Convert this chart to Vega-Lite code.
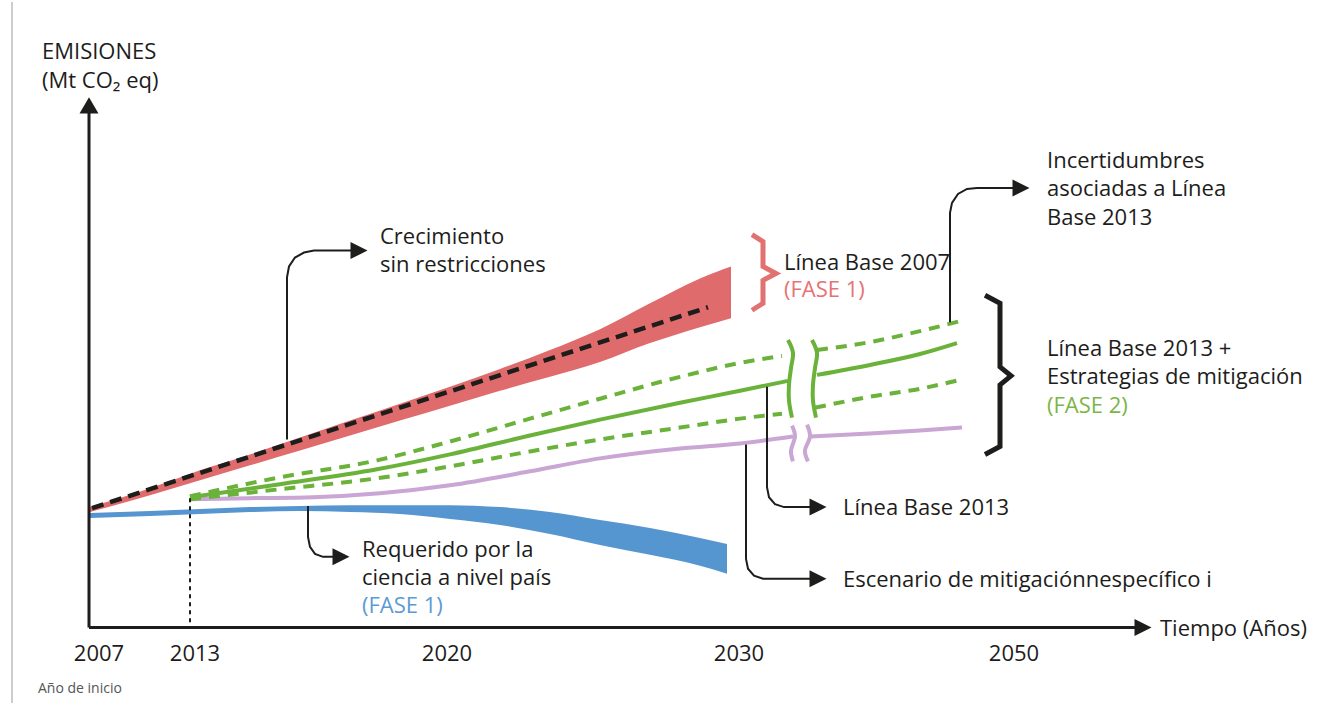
{
  "$schema": "https://vega.github.io/schema/vega-lite/v6.json",
  "width": 1328,
  "height": 705,
  "padding": 0,
  "autosize": {"type": "fit", "contains": "padding"},
  "background": "white",
  "config": {"view": {"stroke": null}},
  "resolve": {"scale": {"color": "independent"}},
  "datasets": {
    "bands": [
      {"serie": "LB2007", "t": 90, "v": 508, "v2": 513},
      {"serie": "LB2007", "t": 150, "v": 489, "v2": 496},
      {"serie": "LB2007", "t": 200, "v": 471, "v2": 481},
      {"serie": "LB2007", "t": 250, "v": 455, "v2": 466},
      {"serie": "LB2007", "t": 300, "v": 438, "v2": 451},
      {"serie": "LB2007", "t": 350, "v": 421, "v2": 436},
      {"serie": "LB2007", "t": 400, "v": 404, "v2": 421},
      {"serie": "LB2007", "t": 450, "v": 387, "v2": 406},
      {"serie": "LB2007", "t": 500, "v": 369, "v2": 391},
      {"serie": "LB2007", "t": 550, "v": 350, "v2": 377},
      {"serie": "LB2007", "t": 600, "v": 329, "v2": 362},
      {"serie": "LB2007", "t": 650, "v": 303, "v2": 343},
      {"serie": "LB2007", "t": 700, "v": 278, "v2": 327},
      {"serie": "LB2007", "t": 731, "v": 266, "v2": 318},
      {"serie": "Ciencia", "t": 90, "v": 514, "v2": 519},
      {"serie": "Ciencia", "t": 150, "v": 512, "v2": 517},
      {"serie": "Ciencia", "t": 200, "v": 510, "v2": 515},
      {"serie": "Ciencia", "t": 250, "v": 508, "v2": 513},
      {"serie": "Ciencia", "t": 300, "v": 507, "v2": 512},
      {"serie": "Ciencia", "t": 350, "v": 506, "v2": 513},
      {"serie": "Ciencia", "t": 400, "v": 506, "v2": 515},
      {"serie": "Ciencia", "t": 450, "v": 506, "v2": 520},
      {"serie": "Ciencia", "t": 500, "v": 508, "v2": 526},
      {"serie": "Ciencia", "t": 550, "v": 513, "v2": 535},
      {"serie": "Ciencia", "t": 600, "v": 521, "v2": 546},
      {"serie": "Ciencia", "t": 650, "v": 529, "v2": 556},
      {"serie": "Ciencia", "t": 700, "v": 539, "v2": 567},
      {"serie": "Ciencia", "t": 727, "v": 545, "v2": 575}
    ],
    "paths": [
      {"id": "marco", "t": 12, "v": 0},
      {"id": "marco", "t": 12, "v": 705},
      {"id": "ejeY", "t": 89, "v": 629},
      {"id": "ejeY", "t": 89, "v": 110},
      {"id": "ejeX", "t": 89, "v": 629},
      {"id": "ejeX", "t": 1136, "v": 629},
      {"id": "c1", "t": 287, "v": 440},
      {"id": "c1", "t": 287, "v": 277},
      {"id": "c1", "t": 289, "v": 266},
      {"id": "c1", "t": 295, "v": 257},
      {"id": "c1", "t": 304, "v": 252},
      {"id": "c1", "t": 314, "v": 250},
      {"id": "c1", "t": 351, "v": 250},
      {"id": "c2", "t": 308, "v": 507},
      {"id": "c2", "t": 308, "v": 538},
      {"id": "c2", "t": 310, "v": 548},
      {"id": "c2", "t": 315, "v": 555},
      {"id": "c2", "t": 323, "v": 558},
      {"id": "c2", "t": 333, "v": 558},
      {"id": "c3", "t": 767, "v": 387},
      {"id": "c3", "t": 767, "v": 488},
      {"id": "c3", "t": 769, "v": 498},
      {"id": "c3", "t": 775, "v": 505},
      {"id": "c3", "t": 784, "v": 508},
      {"id": "c3", "t": 810, "v": 508},
      {"id": "c4", "t": 746, "v": 445},
      {"id": "c4", "t": 746, "v": 560},
      {"id": "c4", "t": 748, "v": 570},
      {"id": "c4", "t": 754, "v": 577},
      {"id": "c4", "t": 763, "v": 580},
      {"id": "c4", "t": 810, "v": 580},
      {"id": "c5", "t": 950, "v": 322},
      {"id": "c5", "t": 950, "v": 212},
      {"id": "c5", "t": 952, "v": 202},
      {"id": "c5", "t": 958, "v": 193},
      {"id": "c5", "t": 967, "v": 188},
      {"id": "c5", "t": 977, "v": 187},
      {"id": "c5", "t": 1013, "v": 187},
      {"id": "llaveRoja", "t": 752, "v": 234},
      {"id": "llaveRoja", "t": 763, "v": 241},
      {"id": "llaveRoja", "t": 763, "v": 266},
      {"id": "llaveRoja", "t": 776, "v": 273},
      {"id": "llaveRoja", "t": 763, "v": 280},
      {"id": "llaveRoja", "t": 763, "v": 303},
      {"id": "llaveRoja", "t": 752, "v": 310},
      {"id": "llaveNegra", "t": 985, "v": 295},
      {"id": "llaveNegra", "t": 1000, "v": 303},
      {"id": "llaveNegra", "t": 1000, "v": 367},
      {"id": "llaveNegra", "t": 1011, "v": 376},
      {"id": "llaveNegra", "t": 1000, "v": 385},
      {"id": "llaveNegra", "t": 1000, "v": 447},
      {"id": "llaveNegra", "t": 985, "v": 455},
      {"id": "inicio2013", "t": 190, "v": 499},
      {"id": "inicio2013", "t": 190, "v": 629},
      {"id": "crecimiento", "t": 92, "v": 509},
      {"id": "crecimiento", "t": 708, "v": 307},
      {"id": "gu1", "t": 190, "v": 497},
      {"id": "gu1", "t": 280, "v": 478},
      {"id": "gu1", "t": 377, "v": 461},
      {"id": "gu1", "t": 450, "v": 442},
      {"id": "gu1", "t": 530, "v": 419},
      {"id": "gu1", "t": 600, "v": 399},
      {"id": "gu1", "t": 680, "v": 377},
      {"id": "gu1", "t": 740, "v": 363},
      {"id": "gu1", "t": 782, "v": 356},
      {"id": "gu2", "t": 817, "v": 350},
      {"id": "gu2", "t": 870, "v": 342},
      {"id": "gu2", "t": 920, "v": 331},
      {"id": "gu2", "t": 960, "v": 321},
      {"id": "gl1", "t": 190, "v": 500},
      {"id": "gl1", "t": 280, "v": 490},
      {"id": "gl1", "t": 377, "v": 479},
      {"id": "gl1", "t": 450, "v": 467},
      {"id": "gl1", "t": 530, "v": 452},
      {"id": "gl1", "t": 600, "v": 440},
      {"id": "gl1", "t": 680, "v": 428},
      {"id": "gl1", "t": 740, "v": 419},
      {"id": "gl1", "t": 782, "v": 414},
      {"id": "gl2", "t": 815, "v": 408},
      {"id": "gl2", "t": 870, "v": 397},
      {"id": "gl2", "t": 920, "v": 389},
      {"id": "gl2", "t": 960, "v": 380},
      {"id": "gs1", "t": 190, "v": 498},
      {"id": "gs1", "t": 280, "v": 485},
      {"id": "gs1", "t": 377, "v": 470},
      {"id": "gs1", "t": 450, "v": 455},
      {"id": "gs1", "t": 530, "v": 436},
      {"id": "gs1", "t": 600, "v": 420},
      {"id": "gs1", "t": 680, "v": 403},
      {"id": "gs1", "t": 740, "v": 391},
      {"id": "gs1", "t": 788, "v": 381},
      {"id": "gs2", "t": 817, "v": 375},
      {"id": "gs2", "t": 870, "v": 365},
      {"id": "gs2", "t": 920, "v": 354},
      {"id": "gs2", "t": 957, "v": 343},
      {"id": "p1", "t": 190, "v": 500},
      {"id": "p1", "t": 250, "v": 499},
      {"id": "p1", "t": 313, "v": 498},
      {"id": "p1", "t": 380, "v": 494},
      {"id": "p1", "t": 450, "v": 486},
      {"id": "p1", "t": 530, "v": 472},
      {"id": "p1", "t": 600, "v": 459},
      {"id": "p1", "t": 680, "v": 449},
      {"id": "p1", "t": 740, "v": 444},
      {"id": "p1", "t": 793, "v": 437},
      {"id": "p2", "t": 810, "v": 437},
      {"id": "p2", "t": 870, "v": 434},
      {"id": "p2", "t": 920, "v": 431},
      {"id": "p2", "t": 962, "v": 428},
      {"id": "gb1", "t": 788, "v": 340},
      {"id": "gb1", "t": 793, "v": 353},
      {"id": "gb1", "t": 791, "v": 368},
      {"id": "gb1", "t": 789, "v": 385},
      {"id": "gb1", "t": 789, "v": 401},
      {"id": "gb1", "t": 792, "v": 418},
      {"id": "gb2", "t": 812, "v": 340},
      {"id": "gb2", "t": 817, "v": 353},
      {"id": "gb2", "t": 815, "v": 368},
      {"id": "gb2", "t": 813, "v": 385},
      {"id": "gb2", "t": 813, "v": 401},
      {"id": "gb2", "t": 816, "v": 418},
      {"id": "pb1", "t": 792, "v": 426},
      {"id": "pb1", "t": 795, "v": 437},
      {"id": "pb1", "t": 791, "v": 451},
      {"id": "pb1", "t": 793, "v": 462},
      {"id": "pb2", "t": 807, "v": 425},
      {"id": "pb2", "t": 810, "v": 437},
      {"id": "pb2", "t": 805, "v": 451},
      {"id": "pb2", "t": 808, "v": 462}
    ],
    "flechas": [
      {"dir": "arriba", "t": 89, "v": 104},
      {"dir": "derecha", "t": 1143, "v": 629},
      {"dir": "derecha", "t": 359, "v": 250},
      {"dir": "derecha", "t": 341, "v": 558},
      {"dir": "derecha", "t": 818, "v": 508},
      {"dir": "derecha", "t": 818, "v": 580},
      {"dir": "derecha", "t": 1021, "v": 187}
    ],
    "textos": [
      {"txt": "EMISIONES", "t": 42, "v": 50, "tono": "negro"},
      {"txt": "(Mt CO₂ eq)", "t": 42, "v": 79, "tono": "negro"},
      {"txt": "Crecimiento", "t": 380, "v": 236, "tono": "negro"},
      {"txt": "sin restricciones", "t": 380, "v": 265, "tono": "negro"},
      {"txt": "Línea Base 2007", "t": 784, "v": 262, "tono": "negro"},
      {"txt": "(FASE 1)", "t": 784, "v": 290, "tono": "rojo"},
      {"txt": "Incertidumbres", "t": 1047, "v": 160, "tono": "negro"},
      {"txt": "asociadas a Línea", "t": 1047, "v": 188, "tono": "negro"},
      {"txt": "Base 2013", "t": 1047, "v": 217, "tono": "negro"},
      {"txt": "Línea Base 2013 +", "t": 1047, "v": 349, "tono": "negro"},
      {"txt": "Estrategias de mitigación", "t": 1047, "v": 377, "tono": "negro"},
      {"txt": "(FASE 2)", "t": 1047, "v": 406, "tono": "verde"},
      {"txt": "Línea Base 2013", "t": 843, "v": 509, "tono": "negro"},
      {"txt": "Escenario de mitigaciónnespecífico i", "t": 843, "v": 581, "tono": "negro"},
      {"txt": "Requerido por la", "t": 362, "v": 551, "tono": "negro"},
      {"txt": "ciencia a nivel país", "t": 362, "v": 579, "tono": "negro"},
      {"txt": "(FASE 1)", "t": 362, "v": 607, "tono": "azul"},
      {"txt": "Tiempo (Años)", "t": 1160, "v": 631, "tono": "negro"}
    ],
    "anios": [
      {"txt": "2007", "t": 99, "v": 656},
      {"txt": "2013", "t": 195, "v": 656},
      {"txt": "2020", "t": 447, "v": 656},
      {"txt": "2030", "t": 739, "v": 656},
      {"txt": "2050", "t": 1014, "v": 656}
    ],
    "nota": [
      {"txt": "Año de inicio", "t": 38, "v": 691}
    ]
  },
  "encoding": {
    "x": {"field": "t", "type": "quantitative", "scale": {"domain": [0, 1328], "nice": false, "zero": false}, "axis": null},
    "y": {"field": "v", "type": "quantitative", "scale": {"domain": [0, 705], "nice": false, "zero": false, "reverse": true}, "axis": null}
  },
  "layer": [
    {
      "data": {"name": "bands"},
      "mark": {"type": "area", "interpolate": "monotone"},
      "encoding": {
        "y2": {"field": "v2"},
        "color": {"field": "serie", "type": "nominal", "scale": {"domain": ["LB2007", "Ciencia"], "range": ["#e06b6c", "#5596d0"]}, "legend": null}
      }
    },
    {
      "data": {"name": "paths"},
      "transform": [{"filter": "datum.id == 'marco'"}],
      "mark": {"type": "line", "stroke": "#9a9a9a", "strokeWidth": 1},
      "encoding": {"detail": {"field": "id"}, "order": {"value": null}}
    },
    {
      "data": {"name": "paths"},
      "transform": [{"filter": "datum.id == 'p1' || datum.id == 'p2'"}],
      "mark": {"type": "line", "stroke": "#c9a6d3", "strokeWidth": 4, "interpolate": "monotone"},
      "encoding": {"detail": {"field": "id"}, "order": {"value": null}}
    },
    {
      "data": {"name": "paths"},
      "transform": [{"filter": "datum.id == 'pb1' || datum.id == 'pb2'"}],
      "mark": {"type": "line", "stroke": "#c9a6d3", "strokeWidth": 4, "interpolate": "cardinal"},
      "encoding": {"detail": {"field": "id"}, "order": {"value": null}}
    },
    {
      "data": {"name": "paths"},
      "transform": [{"filter": "datum.id == 'gu1' || datum.id == 'gu2' || datum.id == 'gl1' || datum.id == 'gl2'"}],
      "mark": {"type": "line", "stroke": "#6ab23a", "strokeWidth": 4, "strokeDash": [11, 8], "interpolate": "monotone"},
      "encoding": {"detail": {"field": "id"}, "order": {"value": null}}
    },
    {
      "data": {"name": "paths"},
      "transform": [{"filter": "datum.id == 'gs1' || datum.id == 'gs2'"}],
      "mark": {"type": "line", "stroke": "#6ab23a", "strokeWidth": 4, "interpolate": "monotone"},
      "encoding": {"detail": {"field": "id"}, "order": {"value": null}}
    },
    {
      "data": {"name": "paths"},
      "transform": [{"filter": "datum.id == 'gb1' || datum.id == 'gb2'"}],
      "mark": {"type": "line", "stroke": "#6ab23a", "strokeWidth": 4, "interpolate": "cardinal"},
      "encoding": {"detail": {"field": "id"}, "order": {"value": null}}
    },
    {
      "data": {"name": "paths"},
      "transform": [{"filter": "datum.id == 'crecimiento'"}],
      "mark": {"type": "line", "stroke": "#1d1d1b", "strokeWidth": 4.5, "strokeDash": [12, 7]},
      "encoding": {"detail": {"field": "id"}, "order": {"value": null}}
    },
    {
      "data": {"name": "paths"},
      "transform": [{"filter": "datum.id == 'inicio2013'"}],
      "mark": {"type": "line", "stroke": "#1d1d1b", "strokeWidth": 2, "strokeDash": [4, 4]},
      "encoding": {"detail": {"field": "id"}, "order": {"value": null}}
    },
    {
      "data": {"name": "paths"},
      "transform": [{"filter": "datum.id == 'ejeX' || datum.id == 'ejeY'"}],
      "mark": {"type": "line", "stroke": "#1d1d1b", "strokeWidth": 3},
      "encoding": {"detail": {"field": "id"}, "order": {"value": null}}
    },
    {
      "data": {"name": "paths"},
      "transform": [{"filter": "indexof(['c1','c2','c3','c4','c5'], datum.id) >= 0"}],
      "mark": {"type": "line", "stroke": "#1d1d1b", "strokeWidth": 2},
      "encoding": {"detail": {"field": "id"}, "order": {"value": null}}
    },
    {
      "data": {"name": "paths"},
      "transform": [{"filter": "datum.id == 'llaveRoja'"}],
      "mark": {"type": "line", "stroke": "#e27171", "strokeWidth": 5, "strokeJoin": "miter"},
      "encoding": {"detail": {"field": "id"}, "order": {"value": null}}
    },
    {
      "data": {"name": "paths"},
      "transform": [{"filter": "datum.id == 'llaveNegra'"}],
      "mark": {"type": "line", "stroke": "#1d1d1b", "strokeWidth": 5, "strokeJoin": "miter"},
      "encoding": {"detail": {"field": "id"}, "order": {"value": null}}
    },
    {
      "data": {"name": "flechas"},
      "transform": [{"filter": "datum.dir == 'derecha'"}],
      "mark": {"type": "point", "filled": true, "color": "#1d1d1b", "opacity": 1, "strokeWidth": 0, "size": 289, "shape": "M-1,-1L1,0L-1,1Z"}
    },
    {
      "data": {"name": "flechas"},
      "transform": [{"filter": "datum.dir == 'arriba'"}],
      "mark": {"type": "point", "filled": true, "color": "#1d1d1b", "opacity": 1, "strokeWidth": 0, "size": 361, "shape": "M-1,0.85L0,-0.85L1,0.85Z"}
    },
    {
      "data": {"name": "textos"},
      "mark": {"type": "text", "align": "left", "baseline": "middle", "font": "Open Sans", "fontSize": 22},
      "encoding": {
        "text": {"field": "txt"},
        "color": {"field": "tono", "type": "nominal", "scale": {"domain": ["negro", "rojo", "azul", "verde"], "range": ["#1d1d1b", "#e57373", "#5b9bd5", "#7ab648"]}, "legend": null}
      }
    },
    {
      "data": {"name": "anios"},
      "mark": {"type": "text", "align": "center", "baseline": "middle", "font": "Open Sans", "fontSize": 22, "color": "#1d1d1b"},
      "encoding": {"text": {"field": "txt"}}
    },
    {
      "data": {"name": "nota"},
      "mark": {"type": "text", "align": "left", "baseline": "middle", "font": "Open Sans", "fontSize": 14, "color": "#555555"},
      "encoding": {"text": {"field": "txt"}}
    }
  ]
}
